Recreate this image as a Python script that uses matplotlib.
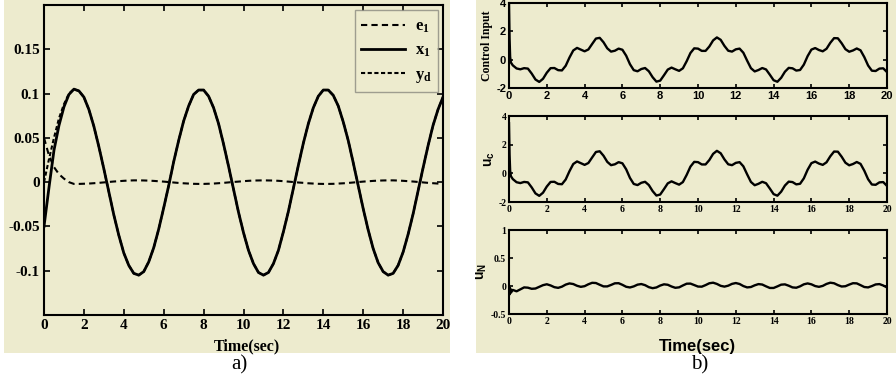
import numpy as np
import matplotlib
matplotlib.use('Agg')
import matplotlib.pyplot as plt
from matplotlib.patches import Rectangle
from matplotlib.lines import Line2D

plt.rcParams['mathtext.fontset'] = 'custom'
plt.rcParams['mathtext.bf'] = 'Liberation Serif:bold'
plt.rcParams['mathtext.rm'] = 'Liberation Serif:bold'
plt.rcParams['mathtext.it'] = 'Liberation Serif:bold'
plt.rcParams['mathtext.sf'] = 'Liberation Sans:bold'

# ---------------- data: panel a) (sampled every 0.25 s) ----------------
t_step_a = 0.25
yd = [0.000, 0.026, 0.050, 0.072, 0.088, 0.100, 0.105, 0.103, 0.096, 0.082,
      0.063, 0.040, 0.015, -0.011, -0.037, -0.060, -0.080, -0.094, -0.103, -0.105,
      -0.101, -0.090, -0.074, -0.053, -0.029, -0.004, 0.023, 0.047, 0.069, 0.086,
      0.099, 0.104, 0.104, 0.097, 0.084, 0.066, 0.043, 0.018, -0.008, -0.034,
      -0.057, -0.077, -0.092, -0.102, -0.105, -0.102, -0.092, -0.077, -0.056, -0.033,
      -0.007, 0.019, 0.044, 0.066, 0.084, 0.097, 0.104, 0.104, 0.098, 0.086,
      0.068, 0.047, 0.022, -0.004, -0.030, -0.054, -0.075, -0.091, -0.101, -0.105,
      -0.103, -0.094, -0.079, -0.059, -0.036, -0.010, 0.016, 0.041, 0.064, 0.082,
      0.096]
x1_start = [-0.050, -0.006, 0.036, 0.064, 0.085, 0.099]
x1 = x1_start + yd[len(x1_start):]
e1 = [0.050, 0.030, 0.017, 0.009, 0.004, 0.000, -0.0020, -0.0020, -0.0018, -0.0016,
      -0.0012, -0.0008, -0.0003, 0.0002, 0.0007, 0.0011, 0.0015, 0.0018, 0.0020, 0.0020,
      0.0019, 0.0017, 0.0014, 0.0010, 0.0006, 0.0001, -0.0004, -0.0009, -0.0013, -0.0016,
      -0.0019, -0.0020, -0.0020, -0.0018, -0.0016, -0.0012, -0.0008, -0.0003, 0.0002, 0.0006,
      0.0011, 0.0015, 0.0018, 0.0019, 0.0020, 0.0019, 0.0018, 0.0015, 0.0011, 0.0006,
      0.0001, -0.0004, -0.0008, -0.0013, -0.0016, -0.0019, -0.0020, -0.0020, -0.0019, -0.0016,
      -0.0013, -0.0009, -0.0004, 0.0001, 0.0006, 0.0010, 0.0014, 0.0017, 0.0019, 0.0020,
      0.0020, 0.0018, 0.0015, 0.0011, 0.0007, 0.0002, -0.0003, -0.0008, -0.0012, -0.0016,
      -0.0018]
t_a = np.arange(len(yd)) * t_step_a

# ---------------- data: panel b) ----------------
t_b_start = [0.0, 0.03, 0.06, 0.1]
t_step_b = 0.2
control_input = [4.0, 1.5, 0.2, -0.2,
    -0.40, -0.62, -0.68, -0.60, -0.63, -0.98, -1.40, -1.57, -1.35, -0.92,
    -0.60, -0.59, -0.74, -0.76, -0.43, 0.15, 0.65, 0.83, 0.71, 0.59,
    0.72, 1.11, 1.49, 1.54, 1.23, 0.80, 0.57, 0.63, 0.78, 0.70,
    0.28, -0.32, -0.74, -0.82, -0.66, -0.59, -0.82, -1.24, -1.55, -1.48,
    -1.10, -0.70, -0.56, -0.68, -0.79, -0.61, -0.11, 0.47, 0.80, 0.78,
    0.62, 0.62, 0.93, 1.36, 1.57, 1.40, 0.97, 0.63, 0.57, 0.73,
    0.78, 0.49, -0.07, -0.60, -0.83, -0.73, -0.59, -0.69, -1.06, -1.45,
    -1.56, -1.28, -0.85, -0.58, -0.61, -0.77, -0.73, -0.35, 0.25, 0.71,
    0.82, 0.68, 0.59, 0.77, 1.19, 1.52, 1.51, 1.16, 0.74, 0.56,
    0.65, 0.79, 0.66, 0.18, -0.41, -0.78, -0.80, -0.63, -0.61, -0.88]
uc_start = [3.5, 1.3, 0.2, -0.2]
u_c = uc_start + control_input[len(uc_start):]
u_N = [0.0, -0.15, -0.04, -0.12,
    -0.07, -0.095, -0.06, -0.025, -0.03, -0.05, -0.045, -0.015, 0.015, 0.031,
    0.010, -0.021, -0.033, -0.012, 0.025, 0.046, 0.035, 0.004, -0.015, -0.003,
    0.031, 0.057, 0.053, 0.022, -0.007, -0.007, 0.019, 0.048, 0.050, 0.021,
    -0.014, -0.026, -0.007, 0.024, 0.035, 0.015, -0.021, -0.039, -0.026, 0.008,
    0.030, 0.022, -0.009, -0.032, -0.024, 0.010, 0.041, 0.043, 0.017, -0.010,
    -0.012, 0.016, 0.049, 0.059, 0.037, 0.003, -0.011, 0.006, 0.038, 0.053,
    0.036, -0.001, -0.025, -0.018, 0.012, 0.034, 0.026, -0.006, -0.035, -0.035,
    -0.007, 0.024, 0.029, 0.005, -0.025, -0.031, -0.006, 0.030, 0.046, 0.030,
    -0.001, -0.015, 0.002, 0.037, 0.059, 0.049, 0.016, -0.009, -0.004, 0.025,
    0.050, 0.047, 0.015, -0.018, -0.025, -0.001, 0.028, 0.034, 0.009, -0.026]
n_reg = len(control_input) - len(t_b_start)
t_b = np.concatenate([t_b_start, np.arange(1, n_reg + 1) * t_step_b])

left_yticks = [-0.1, -0.05, 0, 0.05, 0.1, 0.15]
left_yticklabels = ['-0.1', '-0.05', '0', '0.05', '0.1', '0.15']
xticks = list(range(0, 21, 2))

# ---------------- figure ----------------
BG = '#EDEBCE'
W, H = 896, 383
fig = plt.figure(figsize=(W / 100, H / 100), dpi=100)
fig.patches.append(Rectangle((4 / W, 30 / H), 446 / W, 353 / H, transform=fig.transFigure,
                             facecolor=BG, edgecolor='none', zorder=-10))
fig.patches.append(Rectangle((476 / W, 30 / H), 420 / W, 353 / H, transform=fig.transFigure,
                             facecolor=BG, edgecolor='none', zorder=-10))


def box(x0, y0, x1p, y1p):
    return [x0 / W, 1 - y1p / H, (x1p - x0) / W, (y1p - y0) / H]


def style(ax, family, size, lw=1.5):
    ax.set_facecolor(BG)
    for s in ax.spines.values():
        s.set_linewidth(lw)
        s.set_color('black')
    ax.tick_params(direction='in', top=True, right=True, length=4, width=1.2,
                   labelsize=size, pad=3)
    for lab in ax.get_xticklabels() + ax.get_yticklabels():
        lab.set_fontfamily(family)
        lab.set_fontweight('bold')


# panel a)
ax = fig.add_axes(box(44, 5, 443, 315))
ax.plot(t_a, x1, color='black', lw=2.0, zorder=3)
ax.plot(t_a, yd, color='black', lw=1.5, ls=(0, (2.0, 1.2)), zorder=4)
ax.plot(t_a, e1, color='black', lw=1.5, ls=(0, (3.0, 2.0)), zorder=4)
ax.set_xlim(0, 20)
ax.set_ylim(-0.15, 0.2)
ax.set_xticks(xticks)
ax.set_yticks(left_yticks)
ax.set_yticklabels(left_yticklabels)
style(ax, 'Liberation Serif', 11)
handles = [Line2D([], [], color='black', lw=1.5, ls=(0, (3.0, 2.0))),
           Line2D([], [], color='black', lw=2.0),
           Line2D([], [], color='black', lw=1.5, ls=(0, (2.0, 1.2)))]
leg = ax.legend(handles, [r'$\mathbf{e_1}$', r'$\mathbf{x_1}$', r'$\mathbf{y_d}$'],
                loc='upper right', fontsize=12, frameon=True, fancybox=False,
                borderaxespad=0.3, handlelength=2.6, labelspacing=0.35,
                handletextpad=0.6, borderpad=0.4)
leg.get_frame().set_facecolor(BG)
leg.get_frame().set_edgecolor('#8a8a80')
leg.get_frame().set_linewidth(1.0)

fig.text(247 / W, 1 - 346 / H, 'Time(sec)', ha='center', va='center',
         fontfamily='Liberation Serif', fontweight='bold', fontsize=11.5)
fig.text(239 / W, 1 - 365 / H, 'a)', ha='center', va='center',
         fontfamily='Liberation Serif', fontsize=15)

# panel b)
specs = [
    (box(509, 3, 887, 88), control_input, (-2, 4), [-2, 0, 2, 4], 'Control Input',
     'Liberation Sans', 8),
    (box(509, 116, 887, 202), u_c, (-2, 4), [-2, 0, 2, 4], r'$\mathsf{u_c}$',
     'Liberation Serif', 7),
    (box(509, 230, 887, 314), u_N, (-0.5, 1), [-0.5, 0, 0.5, 1], r'$\mathsf{u_N}$',
     'Liberation Serif', 7),
]
for i, (pos, vals, ylim, yt, ylab, fam, fs) in enumerate(specs):
    a = fig.add_axes(pos)
    a.plot(t_b, vals, color='black', lw=1.7)
    a.set_xlim(0, 20)
    a.set_ylim(*ylim)
    a.set_xticks(xticks)
    a.set_yticks(yt)
    a.set_yticklabels([('%g' % v) for v in yt])
    style(a, fam, fs)
    a.tick_params(length=3, pad=2)
    if i == 0:
        a.set_ylabel(ylab, fontfamily='Liberation Serif', fontweight='bold',
                     fontsize=8.5, labelpad=2)
    else:
        a.set_ylabel(ylab, fontsize=10, labelpad=1)

fig.text(697 / W, 1 - 347 / H, 'Time(sec)', ha='center', va='center',
         fontfamily='Liberation Sans', fontweight='bold', fontsize=12)
fig.text(700 / W, 1 - 365 / H, 'b)', ha='center', va='center',
         fontfamily='Liberation Serif', fontsize=15)

fig.savefig('out.png', dpi=100)
